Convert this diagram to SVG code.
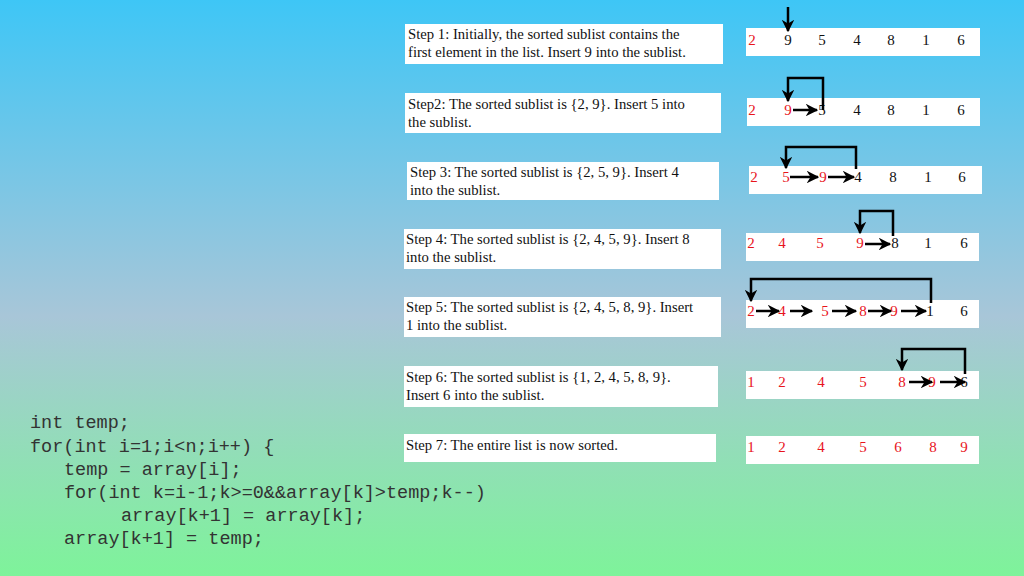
<svg xmlns="http://www.w3.org/2000/svg" width="1024" height="576" viewBox="0 0 1024 576">
<defs>
<linearGradient id="bg" x1="0" y1="0" x2="0" y2="1"><stop offset="0" stop-color="#3ec6f6"/><stop offset="0.55" stop-color="#a8c6d8"/><stop offset="1" stop-color="#7ef39a"/></linearGradient>
<marker id="ah" viewBox="0 0 10 10" refX="9" refY="5" markerWidth="5" markerHeight="5" orient="auto"><path d="M0,0 L10,5 L0,10 L3,5 z" fill="#000"/></marker>
<style>
.box{fill:#fff}
.st{font-family:"Liberation Serif",serif;font-size:14.7px;fill:#111}
.n{font-family:"Liberation Serif",serif;font-size:15px;fill:#111;text-anchor:middle}
.r{fill:#e8141c}
.code{font-family:"Liberation Mono",monospace;font-size:18.5px;fill:#333}
.ar{stroke:#000;stroke-width:2.5;fill:none;marker-end:url(#ah)}
</style>
</defs>
<rect width="1024" height="576" fill="url(#bg)"/>
<g id="step1"><rect class="box" x="405" y="24" width="318" height="40"/><text class="st" x="408" y="39">Step 1: Initially, the sorted sublist contains the</text><text class="st" x="408" y="57">first element in the list. Insert 9 into the sublist.</text></g>
<g id="step2"><rect class="box" x="405" y="93" width="316" height="40"/><text class="st" x="408" y="109">Step2: The sorted sublist is {2, 9}. Insert 5 into</text><text class="st" x="408" y="127">the sublist.</text></g>
<g id="step3"><rect class="box" x="407" y="162" width="312" height="38"/><text class="st" x="410" y="177">Step 3: The sorted sublist is {2, 5, 9}. Insert 4</text><text class="st" x="410" y="195">into the sublist.</text></g>
<g id="step4"><rect class="box" x="404" y="229" width="317" height="40"/><text class="st" x="406" y="244">Step 4:  The sorted sublist is {2, 4, 5, 9}. Insert 8</text><text class="st" x="406" y="262">into the sublist.</text></g>
<g id="step5"><rect class="box" x="404" y="297" width="317" height="40"/><text class="st" x="406" y="312">Step 5:  The sorted sublist is {2, 4, 5, 8, 9}. Insert</text><text class="st" x="406" y="330">1 into the sublist.</text></g>
<g id="step6"><rect class="box" x="404" y="366" width="314" height="41"/><text class="st" x="406" y="382">Step 6:  The sorted sublist is {1, 2, 4, 5, 8, 9}.</text><text class="st" x="406" y="400">Insert 6 into the sublist.</text></g>
<g id="step7"><rect class="box" x="404" y="434" width="312" height="28"/><text class="st" x="406" y="450">Step 7:  The entire list is now sorted.</text></g>

<g id="row1"><rect class="box" x="746" y="28" width="234" height="28"/>
<text class="n r" x="752" y="45">2</text><text class="n" x="788" y="45">9</text><text class="n" x="822" y="45">5</text><text class="n" x="857" y="45">4</text><text class="n" x="891" y="45">8</text><text class="n" x="926" y="45">1</text><text class="n" x="961" y="45">6</text></g>
<g id="row2"><rect class="box" x="747" y="98" width="233" height="28"/>
<text class="n r" x="752" y="115">2</text><text class="n r" x="788" y="115">9</text><text class="n" x="822" y="115">5</text><text class="n" x="857" y="115">4</text><text class="n" x="891" y="115">8</text><text class="n" x="926" y="115">1</text><text class="n" x="961" y="115">6</text></g>
<g id="row3"><rect class="box" x="749" y="166" width="233" height="28"/>
<text class="n r" x="754" y="182">2</text><text class="n r" x="786" y="182">5</text><text class="n r" x="823" y="182">9</text><text class="n" x="858" y="182">4</text><text class="n" x="893" y="182">8</text><text class="n" x="928" y="182">1</text><text class="n" x="962" y="182">6</text></g>
<g id="row4"><rect class="box" x="746" y="233" width="233" height="28"/>
<text class="n r" x="751" y="248">2</text><text class="n r" x="782" y="248">4</text><text class="n r" x="820" y="248">5</text><text class="n r" x="860" y="248">9</text><text class="n" x="895" y="248">8</text><text class="n" x="928" y="248">1</text><text class="n" x="964" y="248">6</text></g>
<g id="row5"><rect class="box" x="746" y="300" width="233" height="28"/>
<text class="n r" x="751" y="316">2</text><text class="n r" x="782" y="316">4</text><text class="n r" x="825" y="316">5</text><text class="n r" x="863" y="316">8</text><text class="n r" x="894" y="316">9</text><text class="n" x="930" y="316">1</text><text class="n" x="964" y="316">6</text></g>
<g id="row6"><rect class="box" x="746" y="371" width="233" height="28"/>
<text class="n r" x="751" y="387">1</text><text class="n r" x="782" y="387">2</text><text class="n r" x="821" y="387">4</text><text class="n r" x="863" y="387">5</text><text class="n r" x="902" y="387">8</text><text class="n r" x="932" y="387">9</text><text class="n" x="964" y="387">6</text></g>
<g id="row7"><rect class="box" x="746" y="436" width="233" height="28"/>
<text class="n r" x="751" y="452">1</text><text class="n r" x="782" y="452">2</text><text class="n r" x="821" y="452">4</text><text class="n r" x="863" y="452">5</text><text class="n r" x="898" y="452">6</text><text class="n r" x="933" y="452">8</text><text class="n r" x="964" y="452">9</text></g>

<g id="connectors">
<path class="ar" d="M788,7 V31"/>
<path class="ar" d="M823,110 V78 H788 V101"/><path class="ar" d="M793,110 H817"/>
<path class="ar" d="M856,169 V147 H786 V168"/><path class="ar" d="M790,177 H818"/><path class="ar" d="M828,177 H854"/>
<path class="ar" d="M893,236 V211 H860 V233"/><path class="ar" d="M865,244 H890"/>
<path class="ar" d="M931,303 V279 H751 V301"/><path class="ar" d="M756,311 H779"/><path class="ar" d="M790,311 H812"/><path class="ar" d="M832,311 H856"/><path class="ar" d="M868,311 H891"/><path class="ar" d="M901,311 H926"/>
<path class="ar" d="M965,374 V349 H902 V370"/><path class="ar" d="M909,382 H932"/><path class="ar" d="M940,382 H965"/>
</g>

<g id="code">
<text class="code" x="30" y="428">int temp;</text>
<text class="code" x="30" y="452">for(int i=1;i&lt;n;i++) {</text>
<text class="code" x="64" y="475">temp = array[i];</text>
<text class="code" x="64" y="498">for(int k=i-1;k&gt;=0&amp;&amp;array[k]&gt;temp;k--)</text>
<text class="code" x="121" y="521">array[k+1] = array[k];</text>
<text class="code" x="64" y="544">array[k+1] = temp;</text>
</g>
</svg>
